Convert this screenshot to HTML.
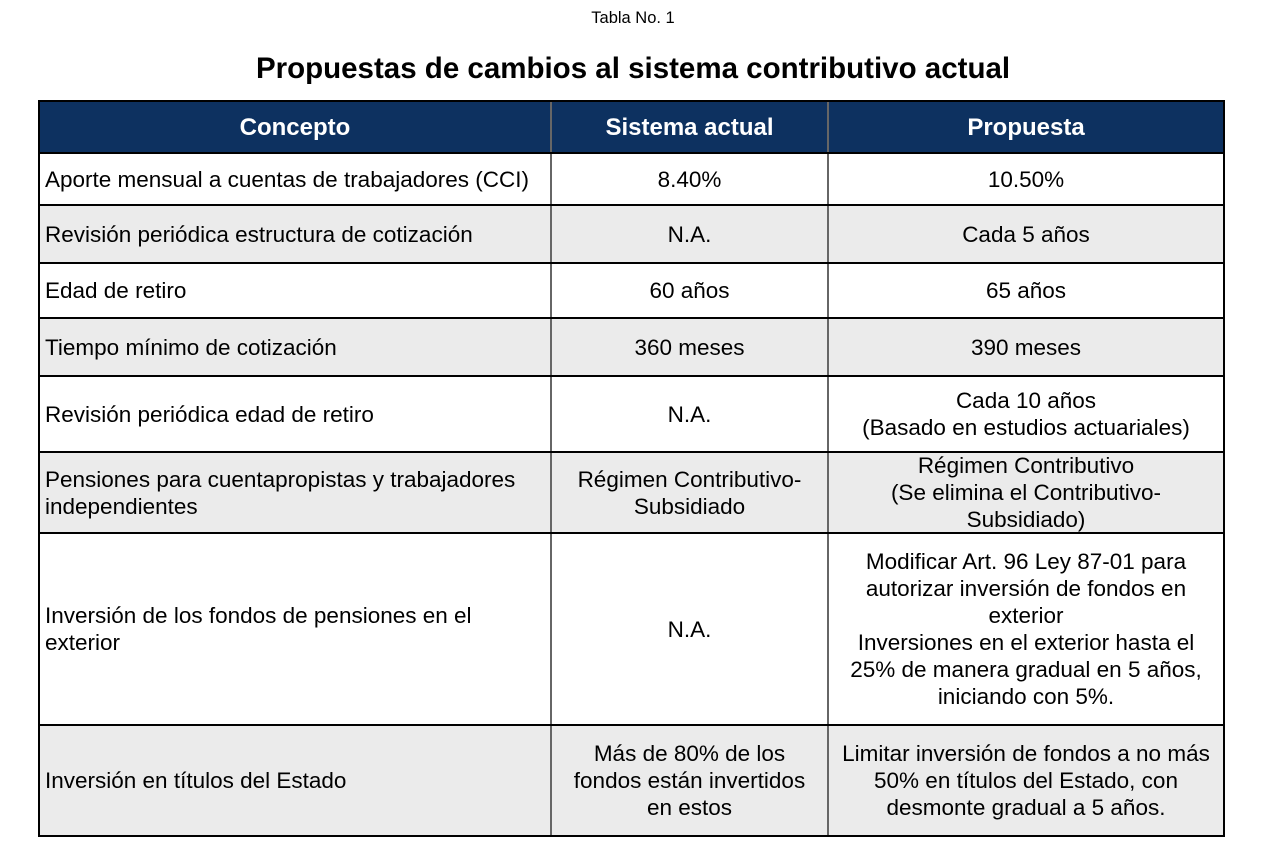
<!DOCTYPE html>
<html><head><meta charset="utf-8"><style>
body{margin:0;width:1266px;height:866px;background:#fff;position:relative;font-family:"Liberation Sans",sans-serif;color:#000;overflow:hidden}
.c{position:absolute;display:flex;align-items:center;font-size:22.5px;line-height:27px;box-sizing:border-box;white-space:nowrap}
.l{justify-content:flex-start;padding-left:6px;text-align:left}
.m{justify-content:center;text-align:center}
.h{color:#fff;font-weight:bold;font-size:24px;justify-content:center}
.hl{position:absolute;background:#000;height:2px;left:39px;width:1185px}
.vl{position:absolute;background:#666;width:2px;top:101px;height:735px}
</style></head><body>
<div style="position:absolute;top:9px;left:0;width:1266px;text-align:center;font-size:16.5px">Tabla No. 1</div>
<div style="position:absolute;top:52px;left:0;width:1266px;text-align:center;font-size:29.5px;font-weight:bold">Propuestas de cambios al sistema contributivo actual</div>
<div style="position:absolute;left:39px;top:101px;width:1185px;height:52px;background:#0d3160"></div>
<div style="position:absolute;left:39px;top:205px;width:1185px;height:58px;background:#ebebeb"></div>
<div style="position:absolute;left:39px;top:318px;width:1185px;height:58px;background:#ebebeb"></div>
<div style="position:absolute;left:39px;top:452px;width:1185px;height:81px;background:#ebebeb"></div>
<div style="position:absolute;left:39px;top:725px;width:1185px;height:110px;background:#ebebeb"></div>

<div class="c h" style="left:39px;top:101px;width:512px;height:52px">Concepto</div>
<div class="c h" style="left:551px;top:101px;width:277px;height:52px">Sistema actual</div>
<div class="c h" style="left:828px;top:101px;width:396px;height:52px">Propuesta</div>

<div class="c l" style="left:39px;top:153px;width:512px;height:52px">Aporte mensual a cuentas de trabajadores (CCI)</div>
<div class="c m" style="left:551px;top:153px;width:277px;height:52px">8.40%</div>
<div class="c m" style="left:828px;top:153px;width:396px;height:52px">10.50%</div>

<div class="c l" style="left:39px;top:205px;width:512px;height:58px">Revisión periódica estructura de cotización</div>
<div class="c m" style="left:551px;top:205px;width:277px;height:58px">N.A.</div>
<div class="c m" style="left:828px;top:205px;width:396px;height:58px">Cada 5 años</div>

<div class="c l" style="left:39px;top:263px;width:512px;height:55px">Edad de retiro</div>
<div class="c m" style="left:551px;top:263px;width:277px;height:55px">60 años</div>
<div class="c m" style="left:828px;top:263px;width:396px;height:55px">65 años</div>

<div class="c l" style="left:39px;top:318px;width:512px;height:58px">Tiempo mínimo de cotización</div>
<div class="c m" style="left:551px;top:318px;width:277px;height:58px">360 meses</div>
<div class="c m" style="left:828px;top:318px;width:396px;height:58px">390 meses</div>

<div class="c l" style="left:39px;top:376px;width:512px;height:76px">Revisión periódica edad de retiro</div>
<div class="c m" style="left:551px;top:376px;width:277px;height:76px">N.A.</div>
<div class="c m" style="left:828px;top:376px;width:396px;height:76px">Cada 10 años<br>(Basado en estudios actuariales)</div>

<div class="c l" style="left:39px;top:452px;width:512px;height:81px">Pensiones para cuentapropistas y trabajadores<br>independientes</div>
<div class="c m" style="left:551px;top:452px;width:277px;height:81px">Régimen Contributivo-<br>Subsidiado</div>
<div class="c m" style="left:828px;top:452px;width:396px;height:81px">Régimen Contributivo<br>(Se elimina el Contributivo-<br>Subsidiado)</div>

<div class="c l" style="left:39px;top:533px;width:512px;height:192px">Inversión de los fondos de pensiones en el<br>exterior</div>
<div class="c m" style="left:551px;top:533px;width:277px;height:192px">N.A.</div>
<div class="c m" style="left:828px;top:533px;width:396px;height:192px">Modificar Art. 96 Ley 87-01 para<br>autorizar inversión de fondos en<br>exterior<br>Inversiones en el exterior hasta el<br>25% de manera gradual en 5 años,<br>iniciando con 5%.</div>

<div class="c l" style="left:39px;top:725px;width:512px;height:110px">Inversión en títulos del Estado</div>
<div class="c m" style="left:551px;top:725px;width:277px;height:110px">Más de 80% de los<br>fondos están invertidos<br>en estos</div>
<div class="c m" style="left:828px;top:725px;width:396px;height:110px">Limitar inversión de fondos a no más<br>50% en títulos del Estado, con<br>desmonte gradual a 5 años.</div>

<div class="vl" style="left:550px"></div>
<div class="vl" style="left:827px"></div>
<div class="hl" style="top:152px"></div>
<div class="hl" style="top:204px"></div>
<div class="hl" style="top:262px"></div>
<div class="hl" style="top:317px"></div>
<div class="hl" style="top:375px"></div>
<div class="hl" style="top:451px"></div>
<div class="hl" style="top:532px"></div>
<div class="hl" style="top:724px"></div>
<div style="position:absolute;left:38px;top:100px;width:1183px;height:733px;border:2px solid #000"></div>
</body></html>
